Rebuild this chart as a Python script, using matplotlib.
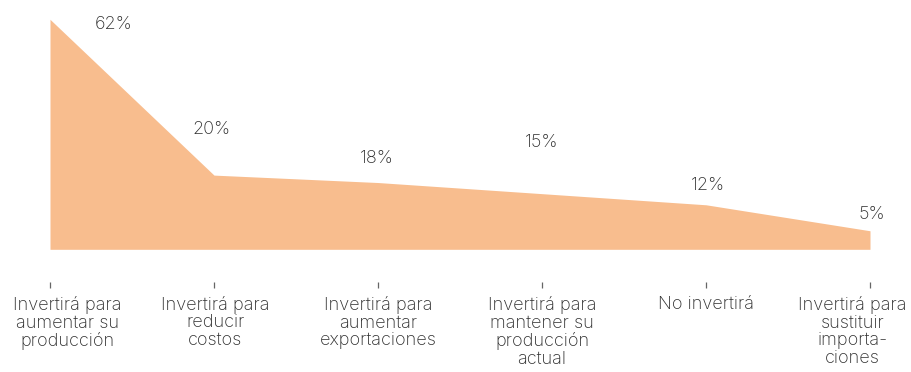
import matplotlib
matplotlib.use('Agg')
import matplotlib.pyplot as plt

categories = ['Invertirá para\naumentar su\nproducción',
              'Invertirá para\nreducir\ncostos',
              'Invertirá para\naumentar\nexportaciones',
              'Invertirá para\nmantener su\nproducción\nactual',
              'No invertirá',
              'Invertirá para\nsustituir\nimporta-\nciones']
values = [62, 20, 18, 15, 12, 5]
value_labels = ['62%', '20%', '18%', '15%', '12%', '5%']

# baseline position of each percentage (x shift, y in data units)
label_dx = [0.39, -0.018, -0.006, 0.0, 0.012, 0.012]
label_y = [59.3, 31.2, 23.2, 27.7, 16.0, 8.05]
# horizontal nudge of the category names (points), end ones pulled inward
cat_dx = [12.5, 1.0, 0.0, 0.0, 0.0, -12.5]

plt.rcParams['font.family'] = ['Inter', 'DejaVu Sans']
plt.rcParams['font.weight'] = 'light'

fig = plt.figure(figsize=(9.12, 3.72), dpi=100)
# axes bottom sits at the tick row; ticks point up into it
ax = fig.add_axes([50 / 912, 1 - 288 / 372, 820 / 912, 268.7 / 372])

x = list(range(len(values)))
ax.fill_between(x, 0, values, color='#F8BD8E', linewidth=0)

for xi, dx, yl, txt in zip(x, label_dx, label_y, value_labels):
    ax.text(xi + dx, yl, txt, ha='center', va='baseline', fontsize=13,
            color='#2e2e2e', fontweight='light')

for xi, dx, cat in zip(x, cat_dx, categories):
    ax.annotate(cat, (xi, 0), xycoords=ax.get_xaxis_transform(),
                xytext=(dx, -5.4), textcoords='offset points',
                ha='center', va='top', fontsize=13, color='#2e2e2e',
                fontweight='light', linespacing=1.07, annotation_clip=False)

ax.set_xlim(0, 5)
ax.set_ylim(-10.43, 62)
ax.set_yticks([])
ax.set_xticks(x, labels=[''] * len(x))
ax.tick_params(axis='x', direction='in', length=4.3, width=0.9, color='#666666')

for side in ['top', 'right', 'left', 'bottom']:
    ax.spines[side].set_visible(False)

fig.savefig('out.png', dpi=100)
